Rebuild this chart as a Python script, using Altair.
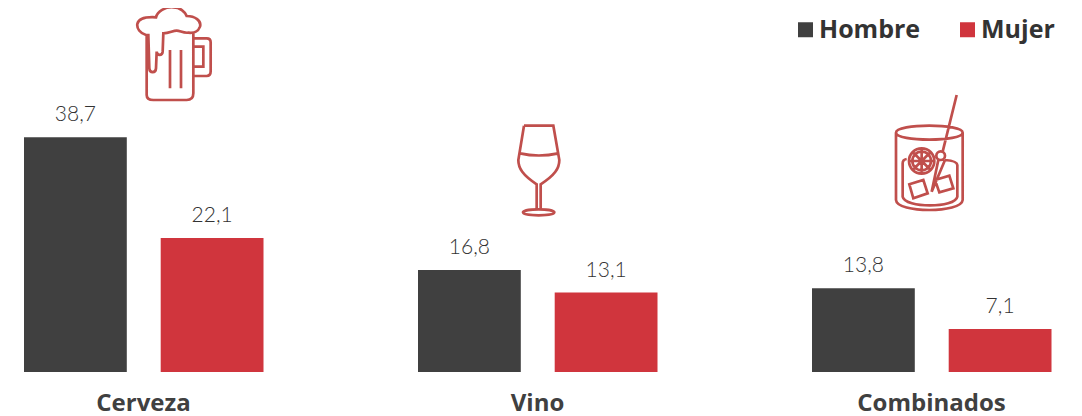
import altair as alt
import pandas as pd

categories = ["Cerveza", "Vino", "Combinados"]
series = ["Hombre", "Mujer"]
hombre = [38.7, 16.8, 13.8]
mujer = [22.1, 13.1, 7.1]
colors = ["#404040", "#D0353D"]
ICON = "#C04F4C"
FONT = "Open Sans"
VALUE_FONT = "Lato"

rows = []
for c, h, m in zip(categories, hombre, mujer):
    rows.append({"cat": c, "sexo": "Hombre", "v": h, "label": f"{h:.1f}".replace(".", ",")})
    rows.append({"cat": c, "sexo": "Mujer", "v": m, "label": f"{m:.1f}".replace(".", ",")})
df = pd.DataFrame(rows)

def circle(cx, cy, r):
    return f"M{cx-r} {cy}A{r} {r} 0 1 0 {cx+r} {cy}A{r} {r} 0 1 0 {cx-r} {cy}Z"

# Decorative icon outlines, in local units (3 units = 1 px)
beer = ("M78 105C60 100 50 85 52 72C55 58 75 50 108 52C112 35 135 20 160 22C180 22 195 35 200 48"
        "C225 48 245 62 240 80C235 95 220 100 205 98C190 100 180 92 170 92C158 92 148 100 130 100"
        "L128 155C127 168 111 168 110 155L108 205C107 220 89 220 88 205L85 105Q82 105 78 105Z"
        "M80 108L80 285Q80 300 100 300L200 300Q220 300 220 280L220 100"
        "M222 115L260 115Q272 115 272 127L272 214Q272 228 260 228L222 228"
        "M222 140L250 140L250 200L222 200M150 150L150 265M183 150L183 265")
wine = ("M72 32L160 32L178 135C178 160 165 180 122 208L122 285M72 32L55 135C55 160 68 180 110 208L110 285"
        "M60 115Q116 128 175 115"
        "M69 292C69 280 163 280 163 292C163 304 69 304 69 292Z")
cocktail = ("M48 143C48 115 248 115 248 143C248 171 48 171 48 143Z"
            "M48 143L48 345C50 385 245 385 248 345L248 143"
            "M68 235L68 335C75 370 225 370 232 335L232 240Q232 228 195 225M68 235Q68 224 80 222"
            "M230 30L188 200M175 225L155 320L195 225"
            "M88 298L130 285L143 325L100 340Z"
            "M165 285L208 272L220 310L178 322Z"
            + circle(182, 212, 13) + circle(125, 228, 38) + circle(125, 228, 28)
            + "M125 190L125 266M87 228L163 228M98 201L152 255M152 201L98 255")

x_enc = alt.X("cat:N", sort=categories, title=None,
              scale=alt.Scale(range=[-61.5, 1120.5], paddingInner=0, paddingOuter=0),
              axis=alt.Axis(domain=False, ticks=False, labelAngle=0, labelFont=FONT,
                            labelFontSize=24, labelFontWeight="bold", labelColor="#404040",
                            labelPadding=19, grid=False))
off_enc = alt.XOffset("sexo:N", sort=series,
                      scale=alt.Scale(range=[77.5, 317], paddingInner=0.248, paddingOuter=0))
y_enc = alt.Y("v:Q", scale=alt.Scale(domain=[0, 60], nice=False), axis=None)

bars = alt.Chart(df).mark_bar().encode(
    x=x_enc, xOffset=off_enc, y=y_enc,
    color=alt.Color("sexo:N", sort=series, scale=alt.Scale(domain=series, range=colors),
                    legend=alt.Legend(title=None, orient="none", legendX=785, legendY=9,
                                      direction="horizontal", symbolType="square", symbolSize=225,
                                      symbolStrokeWidth=0, symbolOpacity=1,
                                      labelFont=FONT, labelFontSize=25, labelFontWeight="bold",
                                      labelColor="#333333", labelLimit=300, columnPadding=34,
                                      labelOffset=1)),
)
labels = alt.Chart(df).mark_text(font=VALUE_FONT, fontSize=21, fontWeight=300, color="#333333",
                                 baseline="bottom", dy=-12).encode(
    x=x_enc, xOffset=off_enc, y=y_enc, text="label:N")

def icon(path, ox, oy):
    return alt.Chart(pd.DataFrame({"a": [0]})).mark_point(
        shape=path, size=4 / 9, filled=False, stroke=ICON, strokeWidth=2.7, opacity=1
    ).encode(x=alt.value(ox - 8), y=alt.value(oy - 8))

chart = alt.layer(bars, labels, icon(beer, 120, 0), icon(wine, 500, 115), icon(cocktail, 880, 85)).properties(
    width=1066, height=364,
    autosize=alt.AutoSizeParams(type="none"),
    padding={"left": 0, "top": 0, "right": 0, "bottom": 44},
).configure_view(stroke=None)

chart.save("out.html", embed_options={"renderer": "svg", "actions": False})
